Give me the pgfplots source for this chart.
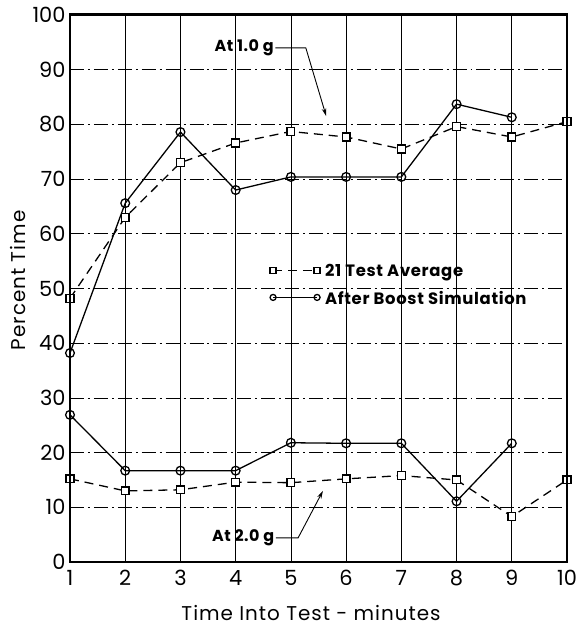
\documentclass[border=0pt]{standalone}
\usepackage{pgfplots}
\pgfplotsset{compat=1.18}
\usepackage{fontspec}
\setmainfont{Poppins}
\usetikzlibrary{arrows.meta}
\begin{document}
\begin{tikzpicture}[x=1bp,y=1bp]
\begin{axis}[
  name=ax,
  scale only axis,
  width=497bp, height=547bp,
  xmin=1, xmax=10, ymin=0, ymax=100,
  xtick={1,...,10}, ytick={0,10,...,100},
  tick style={draw=none},
  xmajorgrids, ymajorgrids,
  x grid style={black, line width=0.6pt},
  y grid style={black, line width=0.6pt, dash pattern=on 14pt off 4pt on 2pt off 4pt},
  ticklabel style={font=\fontsize{21}{23}\selectfont},
  xticklabel style={yshift=-5pt},
  yticklabel style={xshift=-1pt},
  /pgf/number format/assume math mode=true,
  xlabel={Time Into Test - minutes},
  ylabel={Percent Time},
  label style={font=\fontsize{20}{22}\selectfont\addfontfeature{LetterSpace=5}},
  xlabel style={at={(axis description cs:0.485,-0.093)}, anchor=center},
  ylabel style={at={(axis description cs:-0.105,0.515)}, anchor=center, rotate=0},
  legend cell align=left,
  legend style={draw=none, fill=none, at={(axis cs:4.62,54.4)}, anchor=north west,
    font=\bfseries\fontsize{16.5}{18}\selectfont\addfontfeature{LetterSpace=4},
    /tikz/row sep=14pt, inner sep=0pt,
    nodes={inner sep=0pt, text depth=0pt}, /tikz/column sep=5pt},
  legend image code/.code={\draw[#1, mark size=3pt] plot coordinates {(0bp,0bp) (44bp,0bp)};},
  clip=false,
]
% 1.0 g
\addplot[black, line width=1.3pt, dash pattern=on 9pt off 6pt, mark=square*, mark size=3.9pt,
  mark options={solid, fill=white, line width=1.3pt}]
  coordinates {(1,48.2) (2,63) (3,73) (4,76.6) (5,78.7) (6,77.7) (7,75.5) (8,79.6) (9,77.7) (10,80.5)};
\addlegendentry{21 Test Average}
\addplot[black, line width=1.3pt, mark=o, mark size=4.4pt,
  mark options={solid, fill=white, line width=1.3pt}]
  coordinates {(1,38.2) (2,65.6) (3,78.6) (4,68) (5,70.4) (6,70.4) (7,70.4) (8,83.7) (9,81.3)};
\addlegendentry{After Boost Simulation}
% 2.0 g
\addplot[black, line width=1.3pt, dash pattern=on 9pt off 6pt, mark=square*, mark size=3.9pt,
  mark options={solid, fill=white, line width=1.3pt}, forget plot]
  coordinates {(1,15.2) (2,13) (3,13.2) (4,14.6) (5,14.5) (6,15.2) (7,15.8) (8,15) (9,8.3) (10,15)};
\addplot[black, line width=1.3pt, mark=o, mark size=4.4pt,
  mark options={solid, fill=white, line width=1.3pt}, forget plot]
  coordinates {(1,26.9) (2,16.7) (3,16.7) (4,16.7) (5,21.8) (6,21.7) (7,21.7) (8,11.1) (9,21.7)};
% annotations
\node[anchor=east, font=\bfseries\fontsize{16}{18}\selectfont\addfontfeature{LetterSpace=3}, inner sep=1pt] at (axis cs:4.71,94) {At 1.0 g};
\draw[line width=0.9pt, -{Stealth[length=8pt,width=4.5pt]}] (axis cs:4.72,94) -- (axis cs:5.27,94) -- (axis cs:5.64,81.5);
\node[anchor=east, font=\bfseries\fontsize{16}{18}\selectfont\addfontfeature{LetterSpace=3}, inner sep=1pt] at (axis cs:4.72,4.4) {At 2.0 g};
\draw[line width=0.9pt, -{Stealth[length=8pt,width=4.5pt]}] (axis cs:4.73,4.4) -- (axis cs:5.13,4.4) -- (axis cs:5.58,13);
\end{axis}
\draw[line width=3pt] (ax.south west) rectangle (ax.north east);
\pgfresetboundingbox
\path[use as bounding box] ([xshift=-70bp,yshift=-68bp]ax.south west) rectangle ([xshift=10bp,yshift=15bp]ax.north east);
\end{tikzpicture}
\end{document}
